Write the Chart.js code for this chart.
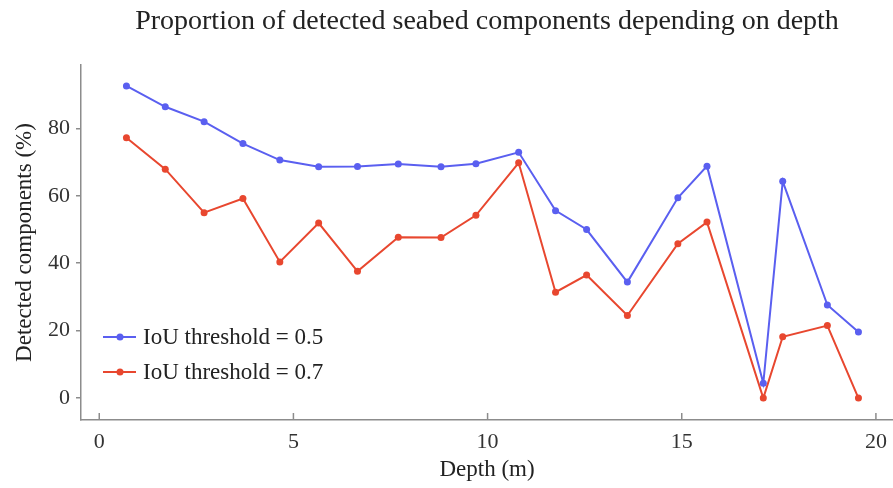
<!DOCTYPE html>
<html>
<head>
<meta charset="utf-8">
<title>Detected seabed components by depth</title>
<script src="https://cdn.jsdelivr.net/npm/chart.js@4.4.1/dist/chart.umd.min.js"></script>
<style>
  html, body { margin: 0; padding: 0; background: #fff; }
  canvas { display: block; }
</style>
</head>
<body>
<canvas id="myChart" width="893" height="488"></canvas>
<script>
// Depth of each survey station (m)
const depths = [0.7, 1.7, 2.7, 3.7, 4.65, 5.65, 6.65, 7.7, 8.8, 9.7,
                10.8, 11.75, 12.55, 13.6, 14.9, 15.65, 17.1, 17.6, 18.75, 19.55];

// Share of detected components (%) for each IoU threshold
const iou05 = [92.6, 86.4, 82.0, 75.5, 70.6, 68.6, 68.7, 69.4, 68.6, 69.5,
               72.9, 55.6, 50.0, 34.4, 59.4, 68.8, 4.4, 64.3, 27.6, 19.6];
const iou07 = [77.2, 67.9, 55.0, 59.2, 40.4, 51.9, 37.6, 47.7, 47.6, 54.2,
               69.8, 31.4, 36.5, 24.5, 45.8, 52.2, 0, 18.2, 21.5, 0];

const seriesLabels = ['IoU threshold = 0.5', 'IoU threshold = 0.7'];
const xTicks = [0, 5, 10, 15, 20];
const yTicks = [0, 20, 40, 60, 80];

const chartTitle = 'Proportion of detected seabed components depending on depth';

const serif = "'Liberation Serif', 'DejaVu Serif', serif";
const blue = '#5a5ff0';
const red = '#e8472f';
const axisGrey = '#8c8c8c';

function toPoints(values) {
    return values.map((v, i) => ({ x: depths[i], y: v }));
}

// Title centred over the plot area rather than the whole canvas
const titlePlugin = {
    id: 'plotTitle',
    afterDraw(chart) {
        const ctx = chart.ctx;
        const area = chart.chartArea;
        ctx.save();
        ctx.font = `28px ${serif}`;
        ctx.fillStyle = '#222';
        ctx.textAlign = 'center';
        ctx.textBaseline = 'middle';
        ctx.fillText(chartTitle, (area.left + area.right) / 2, 22);
        ctx.restore();
    }
};

// x ticks point into the plot
const innerTicks = {
    id: 'innerTicks',
    afterDraw(chart) {
        const ctx = chart.ctx;
        const x = chart.scales.x;
        ctx.save();
        ctx.strokeStyle = axisGrey;
        ctx.lineWidth = 1.5;
        x.ticks.forEach(t => {
            const px = x.getPixelForValue(t.value);
            ctx.beginPath();
            ctx.moveTo(px, x.top);
            ctx.lineTo(px, x.top - 7);
            ctx.stroke();
        });
        ctx.restore();
    }
};

// Legend drawn inside the lower left of the plot
const insideLegend = {
    id: 'insideLegend',
    afterDraw(chart) {
        const ctx = chart.ctx;
        const area = chart.chartArea;
        ctx.save();
        ctx.font = `23px ${serif}`;
        ctx.textBaseline = 'middle';
        chart.data.datasets.forEach((ds, i) => {
            const y = area.top + 272 + i * 35;
            const x0 = area.left + 22;
            ctx.strokeStyle = ds.borderColor;
            ctx.lineWidth = 2;
            ctx.beginPath();
            ctx.moveTo(x0, y);
            ctx.lineTo(x0 + 33, y);
            ctx.stroke();
            ctx.fillStyle = ds.borderColor;
            ctx.beginPath();
            ctx.arc(x0 + 17, y, 3.5, 0, Math.PI * 2);
            ctx.fill();
            ctx.fillStyle = '#222';
            ctx.fillText(ds.label, x0 + 40, y + 1);
        });
        ctx.restore();
    }
};

let ctx = document.getElementById('myChart').getContext('2d');

let chart = new Chart(ctx, {
    type: 'line',
    data: {
        datasets: [{
            label: seriesLabels[0],
            data: toPoints(iou05),
            borderColor: blue,
            backgroundColor: blue,
            pointBackgroundColor: blue,
            borderWidth: 2,
            pointRadius: 3.5,
            pointBorderWidth: 0
        },
        {
            label: seriesLabels[1],
            data: toPoints(iou07),
            borderColor: red,
            backgroundColor: red,
            pointBackgroundColor: red,
            borderWidth: 2,
            pointRadius: 3.5,
            pointBorderWidth: 0
        }]
    },
    options: {
        responsive: false,
        animation: false,
        devicePixelRatio: 1,
        layout: {
            autoPadding: false,
            padding: { top: 65, left: 0, right: 0, bottom: 0 }
        },
        plugins: {
            legend: { display: false },
            title: { display: false },
            tooltip: { enabled: false }
        },
        scales: {
            x: {
                type: 'linear',
                min: -0.47,
                max: 20.44,
                // plot runs right up to the canvas edge
                afterFit: s => { s.height = 68; s.paddingRight = 0; s.paddingLeft = 0; },
                afterBuildTicks: s => { s.ticks = xTicks.map(v => ({ value: v })); },
                ticks: {
                    includeBounds: false,
                    padding: 9,
                    color: '#333',
                    font: { family: serif, size: 22 },
                    maxRotation: 0
                },
                grid: { drawOnChartArea: false, drawTicks: false },
                border: { color: axisGrey, width: 1.5 },
                title: {
                    display: true,
                    text: 'Depth (m)',
                    color: '#222',
                    font: { family: serif, size: 23 },
                    padding: { top: 0, bottom: 4 }
                }
            },
            y: {
                min: -6.5,
                max: 98.8,
                afterFit: s => { s.width = 81; },
                afterBuildTicks: s => { s.ticks = yTicks.map(v => ({ value: v })); },
                ticks: {
                    includeBounds: false,
                    padding: 6,
                    color: '#333',
                    font: { family: serif, size: 22 }
                },
                grid: { drawOnChartArea: false, tickLength: 5, color: axisGrey, lineWidth: 1.5 },
                border: { color: axisGrey, width: 1.5 },
                title: {
                    display: true,
                    text: 'Detected components (%)',
                    color: '#222',
                    font: { family: serif, size: 23 },
                    padding: { top: 11, bottom: 0 }
                }
            }
        }
    },
    plugins: [titlePlugin, innerTicks, insideLegend]
});
</script>
</body>
</html>
